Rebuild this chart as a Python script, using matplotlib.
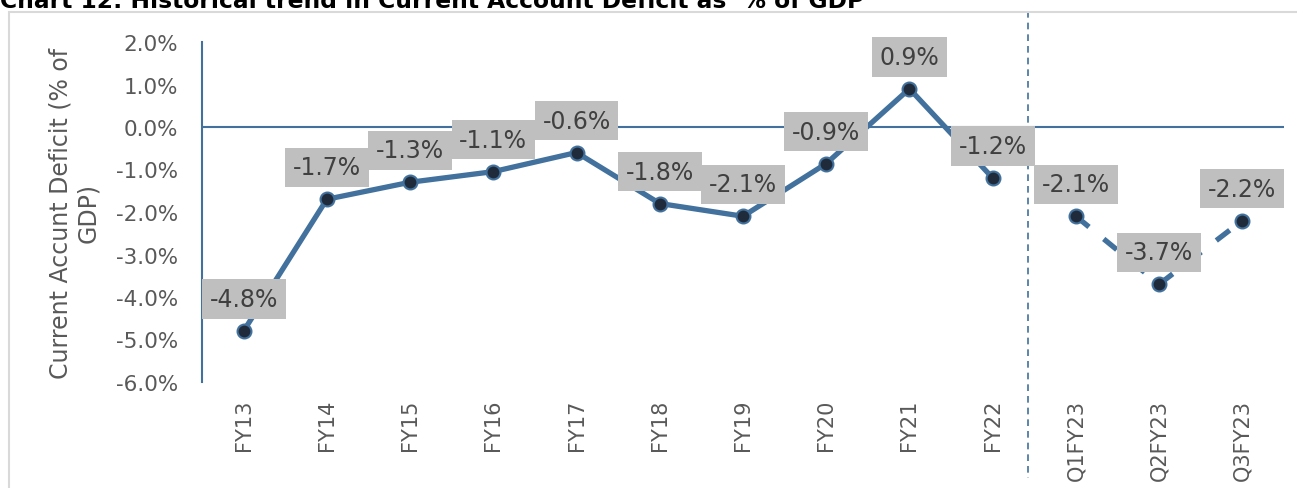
import matplotlib.pyplot as plt
import matplotlib.transforms as mtransforms
from matplotlib.patches import Rectangle

# data
periods = ['FY13', 'FY14', 'FY15', 'FY16', 'FY17', 'FY18', 'FY19',
           'FY20', 'FY21', 'FY22', 'Q1FY23', 'Q2FY23', 'Q3FY23']
cad = [-4.8, -1.7, -1.3, -1.05, -0.6, -1.8, -2.1,
       -0.86, 0.9, -1.2, -2.1, -3.7, -2.2]
n_annual = 10  # first 10 are financial years, rest are quarters
yticks = [2, 1, 0, -1, -2, -3, -4, -5, -6]

blue = '#41719C'
navy = '#1F2A3A'
grey_txt = '#595959'

fig = plt.figure(figsize=(12.97, 4.89), dpi=100)
ax = fig.add_axes([202/1297, 1 - 383/489, (1284 - 202)/1297, 340/489])

x = list(range(len(periods)))

ax.plot(x[:n_annual], cad[:n_annual], color=blue, lw=3.8, zorder=3,
        solid_capstyle='butt')
ax.plot(x[n_annual:], cad[n_annual:], color=blue, lw=3.8, zorder=3,
        dashes=(3.2, 3.6), solid_capstyle='butt')
ax.plot(x, cad, ls='none', marker='o', ms=10, mfc=navy, mec=blue, mew=1.5, zorder=4)

for xi, v in zip(x, cad):
    ax.annotate(f'{v:.1f}%', (xi, v), xytext=(0, 23), textcoords='offset points',
                ha='center', va='center', fontsize=17, color='#404040', zorder=5,
                bbox=dict(boxstyle='square,pad=0.33', fc='#BFBFBF', ec='none'))

ax.axhline(0, color=blue, lw=1.5, zorder=2)

ax.set_xlim(-0.5, len(periods) - 0.5)
ax.set_ylim(-6, 2)
ax.set_yticks(yticks)
ax.set_yticklabels([f'{t:.1f}%' for t in yticks])
ax.set_xticks(x)
ax.set_xticklabels(periods, rotation=90)
ax.tick_params(axis='y', length=0, pad=17, labelsize=15.5, labelcolor=grey_txt)
ax.tick_params(axis='x', length=0, pad=12, labelsize=15, labelcolor=grey_txt)

for side in ['top', 'right', 'bottom']:
    ax.spines[side].set_visible(False)
ax.spines['left'].set_color(blue)
ax.spines['left'].set_linewidth(1.5)

ax.set_ylabel('Current Accunt Deficit (% of\nGDP)', fontsize=17, color=grey_txt,
              linespacing=1.2)
ax.yaxis.set_label_coords(-0.094, 0.5)

# divider between annual and quarterly data
trans = mtransforms.blended_transform_factory(ax.transData, ax.transAxes)
ax.plot([9.42, 9.42], [1.091, -0.282], transform=trans, color=blue, lw=1.2,
        ls=(0, (4, 3)), clip_on=False, zorder=1)

# frame around the chart
fig.patches.append(Rectangle((9/1297, -0.1), 1.1, 1 - 13/489 + 0.1,
                             transform=fig.transFigure, fill=False,
                             ec='#D9D9D9', lw=1.5))

fig.text(0.0, 1 - 8/489, 'Chart 12: Historical trend in Current Account Deficit as  % of GDP',
         fontsize=16.8, fontweight='bold', va='baseline', ha='left', color='black')

fig.savefig('out.png', dpi=100)
